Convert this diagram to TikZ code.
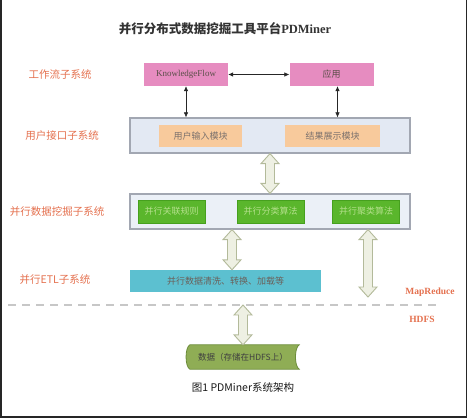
\documentclass[tikz,border=0pt]{standalone}
\usepackage{fontspec}
\setmainfont{Liberation Serif}
\newfontfamily\cjk{Noto Sans CJK SC}
\usetikzlibrary{arrows.meta,calc,backgrounds}
\definecolor{flowpink}{HTML}{E68CC0}
\definecolor{panelblue}{HTML}{E3E9F3}
\definecolor{framegray}{HTML}{A2A7B2}
\definecolor{modorange}{HTML}{F8CA9C}
\definecolor{algogreen}{HTML}{5AB62C}
\definecolor{algoedge}{HTML}{46A01E}
\definecolor{algotext}{HTML}{B4E08C}
\definecolor{etlteal}{HTML}{5CC0D0}
\definecolor{storegreen}{HTML}{8FAD55}
\definecolor{storeedge}{HTML}{6C8C3A}
\definecolor{sublabel}{HTML}{E4704E}
\definecolor{hollowline}{HTML}{B3BA9A}
\definecolor{hollowfill}{HTML}{EEF0E3}
\definecolor{boxtext}{HTML}{5A4E48}
\tikzset{
  layerlabel/.style={font=\cjk\fontsize{10.5}{12}\selectfont,text=sublabel,inner sep=0pt},
  tierlabel/.style={font=\bfseries\fontsize{9.5}{10}\selectfont,text=sublabel,inner sep=0pt},
  flowbox/.style={fill=flowpink,minimum width=84pt,minimum height=23pt,inner sep=0pt,
                  text=boxtext,font=\fontsize{9}{10}\selectfont},
  layerbox/.style={draw=framegray,line width=1.2pt,fill=panelblue,
                   minimum width=280pt,minimum height=35pt,inner sep=0pt},
  modbox/.style={fill=modorange,minimum height=22pt,inner sep=0pt,
                 text=boxtext!80,font=\cjk\fontsize{9}{10}\selectfont},
  algbox/.style={draw=algoedge,fill=algogreen,minimum width=67pt,minimum height=23pt,
                 inner sep=0pt,text=algotext,font=\cjk\fontsize{9}{10}\selectfont},
  thinarrow/.style={{Latex[length=5pt,width=4.5pt]}-{Latex[length=5pt,width=4.5pt]},
                    line width=0.6pt,black!85},
  hollow/.style={draw=hollowline,fill=hollowfill,line width=0.9pt,
    to path={let \p1=(\tikztostart), \p2=(\tikztotarget) in
      (\x1,\y1) -- (\x1+9pt,\y1-10pt) -- (\x1+4.5pt,\y1-10pt) -- (\x1+4.5pt,\y2+10pt)
      -- (\x1+9pt,\y2+10pt) -- (\x1,\y2) -- (\x1-9pt,\y2+10pt) -- (\x1-4.5pt,\y2+10pt)
      -- (\x1-4.5pt,\y1-10pt) -- (\x1-9pt,\y1-10pt) -- cycle}},
}

\begin{document}
\begin{tikzpicture}[x=1pt,y=-1pt]
\useasboundingbox (0,0) rectangle (468,418);
\draw[line width=1.6pt,black!85] (0.8,0) -- (0.8,417.2) -- (466.5,417.2) -- (466.5,0);

% --- title ---
\node[font=\bfseries\fontsize{12.5}{14}\selectfont,text=black!80] (title) at (225,29)
  {{\cjk 并行分布式数据挖掘工具平台}PDMiner};

% --- workflow ---
\node[layerlabel] (lwf) at (60,74) {工作流子系统};
\node[flowbox] (kf)  at (186,74.5)   {KnowledgeFlow};
\node[flowbox, font=\cjk\fontsize{9}{10}\selectfont] (app) at (331.5,74.5) {应用};
\draw[thinarrow] (kf) -- (app);

% --- user interface ---
\node[layerlabel] (lui) at (62,136) {用户接口子系统};
\node[layerbox] (ui) at (270,135.5) {};
\node[modbox, minimum width=83pt] (input)  at (200.5,136) {用户输入模块};
\node[modbox, minimum width=95pt] (result) at (332.5,136) {结果展示模块};
\draw[thinarrow] (kf.south) -- (kf.south |- ui.north);
\draw[thinarrow] ([xshift=6pt]app.south) -- ([xshift=6pt]app.south |- ui.north);

% --- parallel mining ---
\node[layerlabel] (lmine) at (57,211) {并行数据挖掘子系统};
\node[layerbox, fill=panelblue!70] (mine) at (270,211.5) {};
\node[algbox] (assoc) at (171.5,211.5) {并行关联规则};
\node[algbox] (cls)   at (270.5,211.5) {并行分类算法};
\node[algbox] (clu)   at (366,211.5)   {并行聚类算法};
\path[hollow] (ui.south) to (mine.north);

% --- parallel ETL ---
\node[layerlabel] (letl) at (55,280) {并行ETL子系统};
\node[fill=etlteal, minimum width=191pt, minimum height=22pt, inner sep=0pt,
      text=boxtext!90, font=\cjk\fontsize{9}{10}\selectfont] (etl) at (225.5,281)
  {并行数据清洗、转换、加载等};
\path[hollow] ([xshift=6.5pt]mine.south -| etl.north) to (etl.north);
\coordinate (mrend) at (368,297);
\path[hollow] (mine.south -| mrend) to (mrend);

% --- MapReduce / HDFS boundary ---
\coordinate (hdfsl) at (8,305);
\coordinate (hdfsr) at (440,305);
\draw[black!22, line width=1.5pt, dash pattern=on 8pt off 6pt] (hdfsl) -- (hdfsr);
\node[tierlabel] (mr)   at (430,292) {MapReduce};
\node[tierlabel] (hdfs) at (422,319) {HDFS};

% --- stored data ---
\node[minimum width=106pt, minimum height=24pt, inner sep=0pt, text=black!75,
      font=\cjk\fontsize{8.5}{10}\selectfont] (data) at (243,357) {数据（存储在HDFS上）};
\begin{scope}[on background layer]
\draw[storeedge, fill=storegreen, line width=0.8pt]
  (data.north west) .. controls ([xshift=-5pt,yshift=-3pt]data.north west)
     and ([xshift=-5pt,yshift=3pt]data.south west) .. (data.south west)
  -- ([xshift=3pt]data.south east) .. controls ([xshift=-2pt,yshift=3pt]data.south east)
     and ([xshift=-2pt,yshift=-3pt]data.north east) .. ([xshift=3pt]data.north east)
  -- cycle;
\end{scope}
\path[hollow] (data.north |- hdfsl) to (data.north);

% --- caption ---
\node[font=\cjk\fontsize{10.5}{12}\selectfont, text=black!90] (cap) at (243,387)
  {图1 PDMiner系统架构};

\end{tikzpicture}
\end{document}
